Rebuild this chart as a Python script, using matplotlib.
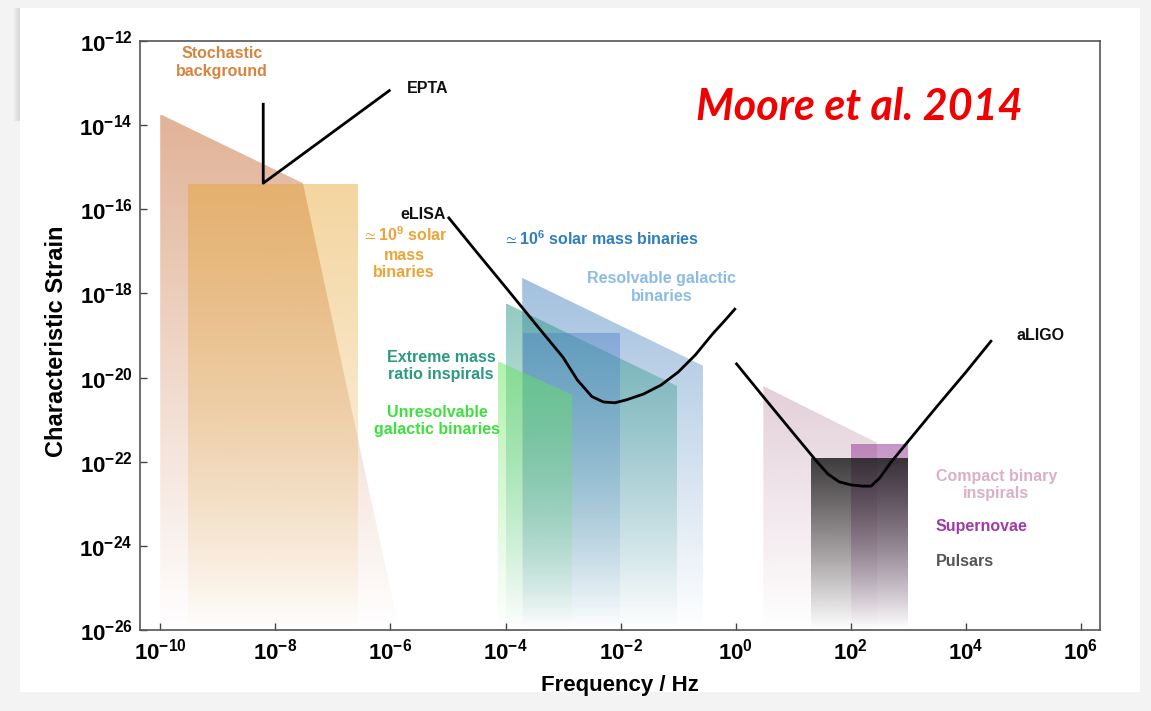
import numpy as np
import matplotlib
matplotlib.use("Agg")
import matplotlib.pyplot as plt
import matplotlib.colors as mcolors
import matplotlib.transforms as mtransforms
from matplotlib.patches import Polygon, Rectangle
from matplotlib.ticker import FuncFormatter

plt.rcParams["font.family"] = ["Liberation Sans", "DejaVu Sans"]
plt.rcParams["mathtext.fontset"] = "custom"
plt.rcParams["mathtext.rm"] = "Liberation Sans"
plt.rcParams["mathtext.it"] = "Liberation Sans:italic"
plt.rcParams["mathtext.bf"] = "Liberation Sans:bold"
plt.rcParams["mathtext.fallback"] = "stixsans"

# axis ranges (log10)
xlim_log = (-10.36, 6.33)
ylim_log = (-26, -12)
xtick_exp = np.arange(-10, 7, 2)
ytick_exp = np.arange(-26, -11, 2)

# detector sensitivity curves, log10 f [Hz] and log10 h_c
epta_logf = [-8.21, -8.21, -6.0]
epta_logh = [-13.47, -15.38, -13.16]

elisa_logf = [-5.0, -4.5, -4.0, -3.5, -3.0, -2.75, -2.5, -2.3, -2.1, -1.9,
              -1.6, -1.3, -1.0, -0.7, -0.4, -0.2, 0.0]
elisa_logh = [-16.18, -17.02, -17.85, -18.69, -19.52, -20.06, -20.45, -20.58,
              -20.6, -20.53, -20.39, -20.18, -19.87, -19.46, -18.96, -18.66, -18.35]

aligo_logf = [0.0, 0.5, 1.0, 1.4, 1.6, 1.8, 2.0, 2.2, 2.35, 2.5, 2.7, 3.0,
              3.5, 4.0, 4.45]
aligo_logh = [-19.65, -20.49, -21.32, -21.98, -22.29, -22.48, -22.55, -22.58,
              -22.58, -22.39, -22.01, -21.51, -20.68, -19.87, -19.11]

# source regions: top outline (log10 f, log10 h); closed down to the floor
stoch_logf = [-10.0, -7.52, -5.85]
stoch_logh = [-13.74, -15.38, -26.0]
smbh9_logf = [-9.51, -6.54]
smbh9_logh = [-15.38, -15.38]
unres_logf = [-4.13, -2.84]
unres_logh = [-19.61, -20.41]
emri_logf = [-4.0, -1.02]
emri_logh = [-18.23, -20.2]
resolv_logf = [-3.71, -0.55]
resolv_logh = [-17.63, -19.73]
smbh6_logf = [-3.69, -2.0]
smbh6_logh = [-18.92, -18.92]
cbc_logf = [0.48, 2.47]
cbc_logh = [-20.2, -21.56]
sn_logf = [2.0, 3.0]
sn_logh = [-21.56, -21.56]
psr_logf = [1.3, 3.0]
psr_logh = [-21.91, -21.91]

fig = plt.figure(figsize=(11.51, 7.11), dpi=100, facecolor="#f3f3f3")
fig.patches.append(Rectangle((20 / 1151, 19 / 711), 1120 / 1151, 684 / 711,
                             transform=fig.transFigure, facecolor="white",
                             edgecolor="none", zorder=-10))
# slide shadow on the top-left edge
for i, c in enumerate(["#e9e9e9", "#e2e2e2", "#dadada"]):
    fig.patches.append(Rectangle(((14 + 2 * i) / 1151, 590 / 711), 2 / 1151,
                                 113 / 711, transform=fig.transFigure,
                                 facecolor=c, edgecolor="none", zorder=-11))

ax = fig.add_axes([139.5 / 1151, 1 - 630 / 711, 960.5 / 1151, 589 / 711])
ax.set_xscale("log")
ax.set_yscale("log")
ax.set_xlim(10.0 ** xlim_log[0], 10.0 ** xlim_log[1])
ax.set_ylim(10.0 ** ylim_log[0], 10.0 ** ylim_log[1])
ax.autoscale(False)

floor = 10.0 ** ylim_log[0]
blend = mtransforms.blended_transform_factory(ax.transData, ax.transAxes)


def shade(logf, logh, color, alpha, zorder, power=1.0):
    f = 10.0 ** np.asarray(logf, float)
    h = 10.0 ** np.asarray(logh, float)
    verts = list(zip(f, h))
    if h[-1] > floor:
        verts.append((f[-1], floor))
    verts.append((f[0], floor))
    poly = Polygon(verts, closed=True, transform=ax.transData)
    top = ax.transAxes.inverted().transform(
        ax.transData.transform((f[0], h.max())))[1]
    grad = np.zeros((256, 1, 4))
    grad[..., :3] = mcolors.to_rgb(color)
    t = np.linspace(1, 0, 256)
    grad[:, 0, 3] = alpha * t ** power
    im = ax.imshow(grad, extent=(f.min(), f.max(), 0, top), transform=blend,
                   aspect="auto", origin="upper", interpolation="bilinear",
                   zorder=zorder)
    im.set_clip_path(poly)


shade(stoch_logf, stoch_logh, (200 / 255, 115 / 255, 64 / 255), 0.55, 0.1)
shade(smbh9_logf, smbh9_logh, (229 / 255, 162 / 255, 44 / 255), 0.45, 0.2, 0.8)
shade(resolv_logf, resolv_logh, (100 / 255, 150 / 255, 200 / 255), 0.6, 0.3)
shade(emri_logf, emri_logh, (40 / 255, 150 / 255, 130 / 255), 0.5, 0.4)
shade(smbh6_logf, smbh6_logh, (80 / 255, 130 / 255, 200 / 255), 0.45, 0.5)
shade(unres_logf, unres_logh, (100 / 255, 230 / 255, 90 / 255), 0.5, 0.6)
shade(cbc_logf, cbc_logh, (200 / 255, 160 / 255, 180 / 255), 0.5, 0.3)
shade(sn_logf, sn_logh, (150 / 255, 60 / 255, 150 / 255), 0.55, 0.4)
shade(psr_logf, psr_logh, (30 / 255, 30 / 255, 30 / 255), 0.85, 0.5)

for lf, lh in [(epta_logf, epta_logh), (elisa_logf, elisa_logh),
               (aligo_logf, aligo_logh)]:
    ax.plot(10.0 ** np.asarray(lf), 10.0 ** np.asarray(lh), color="black",
            lw=2, solid_joinstyle="round", solid_capstyle="butt", zorder=3)

ax.set_xticks(10.0 ** xtick_exp)
ax.set_yticks(10.0 ** ytick_exp)
ax.minorticks_off()
pow_fmt = FuncFormatter(lambda v, _: r"$\mathbf{10^{%d}}$" % round(np.log10(v)))
ax.xaxis.set_major_formatter(pow_fmt)
ax.yaxis.set_major_formatter(pow_fmt)
ax.tick_params(direction="in", length=5, width=1, labelsize=16, color="#444444")
ax.tick_params(axis="y", pad=5)
ax.tick_params(axis="x", pad=6)
for sp in ax.spines.values():
    sp.set_color("#555555")
    sp.set_linewidth(1.2)

ax.set_ylabel("Characteristic Strain", fontsize=17, fontweight="bold")
ax.yaxis.set_label_coords(-0.074, 0.49)
ax.set_xlabel("Frequency / Hz", fontsize=16, fontweight="bold", va="top")
ax.xaxis.set_label_coords(0.5, -0.076)


def label(lf, lh, s, color, ha="center", **kw):
    ax.text(10.0 ** lf, 10.0 ** lh, s, color=color, ha=ha, va="center",
            fontsize=11.5, fontweight="bold", linespacing=1.2, zorder=5, **kw)


label(-8.92, -12.51, "Stochastic\nbackground", "#d7843f")
label(-5.71, -13.12, "EPTA", "#111111", ha="left")
label(-5.04, -16.12, "eLISA", "#111111", ha="right")
label(-5.76, -16.6, r"$\simeq$10$^{\mathbf{9}}$ solar", "#eba43a")
label(-5.76, -17.3, "mass\nbinaries", "#eba43a")
label(-2.34, -16.7, r"$\simeq$10$^{\mathbf{6}}$ solar mass binaries", "#2f7fbf")
label(-1.285, -17.86, "Resolvable galactic\nbinaries", "#8cbce6")
label(-5.12, -19.73, "Extreme mass\nratio inspirals", "#2a9a80")
label(-5.19, -21.03, "Unresolvable\ngalactic binaries", "#3ee03e")
label(4.88, -18.99, "aLIGO", "#111111", ha="left")
label(4.53, -22.55, "Compact binary\ninspirals", "#d9b0c8")
label(3.47, -23.55, "Supernovae", "#a03aa8", ha="left")
label(3.47, -24.36, "Pulsars", "#555555", ha="left")

ax.text(10.0 ** 2.15, 10.0 ** -13.57, "Moore et al. 2014", color="#f00000",
        fontsize=31, fontweight="bold", fontstyle="italic", family="Lato",
        ha="center", va="center", zorder=5)

fig.savefig("out.png", dpi=100, facecolor=fig.get_facecolor())
